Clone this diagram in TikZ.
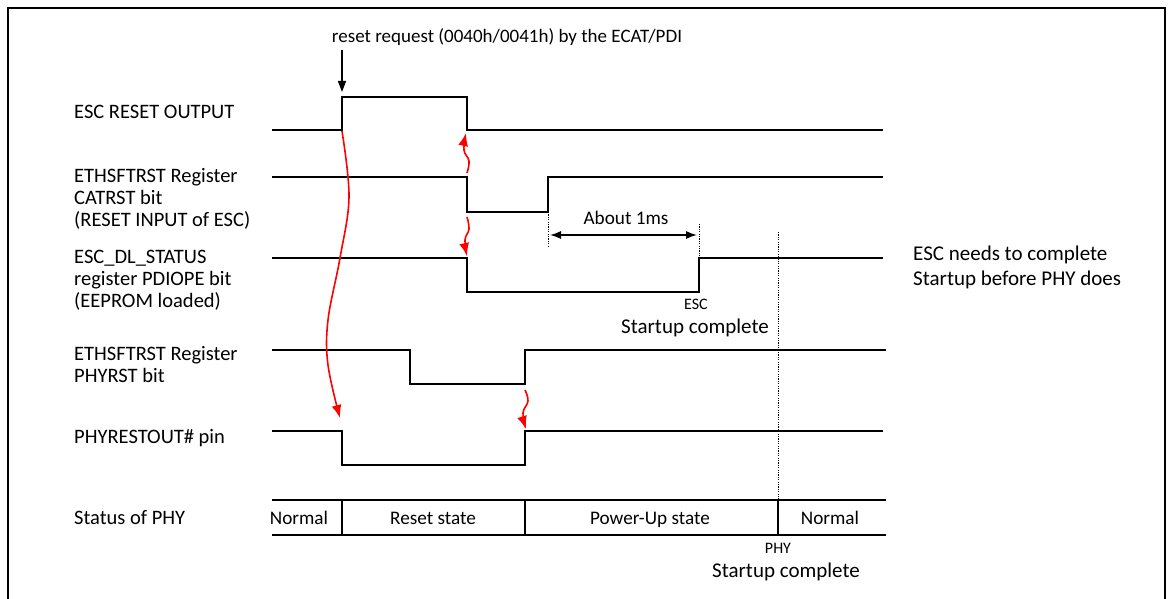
\documentclass[tikz,border=0pt]{standalone}
\usepackage{fontspec}
\setmainfont{Carlito}
\usetikzlibrary{arrows.meta}
\begin{document}
\begin{tikzpicture}[x=1pt,y=-1pt,
  sig/.style={line width=1.7pt, line join=miter},
  lbl/.style={anchor=west, align=left, inner sep=0pt, font=\fontsize{20.5}{22}\selectfont},
  txt/.style={inner sep=0pt, text height=13.5pt, text depth=4.5pt, font=\fontsize{19.2}{21}\selectfont},
  big/.style={inner sep=0pt, font=\fontsize{21}{25}\selectfont},
  small/.style={inner sep=0pt, font=\fontsize{16}{18}\selectfont},
  dot/.style={line width=1pt, dash pattern=on 1.2pt off 1.2pt},
  redarr/.style={red, line width=1.6pt, -{Latex[length=13pt,width=10pt]}},
]
\useasboundingbox (0,0) rectangle (1168,599);
\draw[line width=2pt] (1165,620) -- (1165,8) -- (8,8) -- (8,620);

% title and request arrow
\node[inner sep=0pt, font=\fontsize{19}{21}\selectfont] (title) at (507,37) {reset request (0040h/0041h) by the ECAT/PDI};
\coordinate (req) at (342,92);
\draw[line width=1.4pt, -{Triangle[length=11pt,width=8pt]}] (342,50) -- (req);

% labels
\node[lbl] (l1) at (74,112) {ESC RESET OUTPUT};
\node[lbl] (l2) at (74,199) {ETHSFTRST Register\\CATRST bit\\(RESET INPUT of ESC)};
\node[lbl] (l3) at (74,280) {ESC\_DL\_STATUS\\register PDIOPE bit\\(EEPROM loaded)};
\node[lbl] (l4) at (74,365) {ETHSFTRST Register\\PHYRST bit};
\node[lbl] (l5) at (74,438) {PHYRESTOUT\# pin};
\node[lbl] (l6) at (74,518) {Status of PHY};

% waveforms
\draw[sig] (272,130) -- (342,130) -- (342,97) -- (467,97) -- (467,130) -- (883,130);
\draw[sig] (272,177) -- (467,177) -- (467,212) -- (548,212) -- (548,177) -- (883,177);
\draw[sig] (272,258) -- (467,258) -- (467,292) -- (699,292) -- (699,258) -- (883,258);
\draw[sig] (272,350) -- (410,350) -- (410,384) -- (525,384) -- (525,350) -- (886,350);
\draw[sig] (272,431) -- (342,431) -- (342,465) -- (525,465) -- (525,431) -- (883,431);

% status of PHY
\draw[sig] (272,500) -- (886,500);
\draw[sig] (272,535) -- (886,535);
\draw[line width=1.3pt] (342,500) -- (342,535) (525,500) -- (525,535) (778,500) -- (778,535);
\node[txt] (s1) at (299,520) {Normal};
\node[txt] (s2) at (433,520) {Reset state};
\node[txt] (s3) at (650,520) {Power-Up state};
\node[txt] (s4) at (830,520) {Normal};

% dotted markers
\draw[dot] (548,212) -- (548,246);
\draw[dot] (699,224) -- (699,258);
\draw[dot] (778,232) -- (778,500);

% about 1ms
\coordinate (a1) at (550,235);
\coordinate (a2) at (697,235);
\draw[line width=1.4pt, {Latex[length=11pt,width=8pt]}-{Latex[length=11pt,width=8pt]}] (a1) -- (a2);
\node[txt] (ab) at (626,220) {About 1ms};

% startup labels
\node[small] (esc) at (696,304) {ESC};
\node[big] (esu) at (695,328) {Startup complete};
\node[small] (phy) at (778,548) {PHY};
\node[big] (psu) at (786,572) {Startup complete};
\node[big, anchor=west, align=left] (note) at (913,267) {ESC needs to complete\\Startup before PHY does};

% red causal arrows
\draw[redarr] plot[smooth, tension=0.6] coordinates {(342,131) (349,197) (340,258) (328,320) (328,365) (340,418)};
\draw[redarr] plot[smooth, tension=0.7] coordinates {(467,173) (469,161) (464,150) (466,133)};
\draw[redarr] plot[smooth, tension=0.7] coordinates {(467,217) (469,229) (465,240) (467,256)};
\draw[redarr] plot[smooth, tension=0.7] coordinates {(525,390) (528,401) (523,413) (526,429)};
\end{tikzpicture}
\end{document}
